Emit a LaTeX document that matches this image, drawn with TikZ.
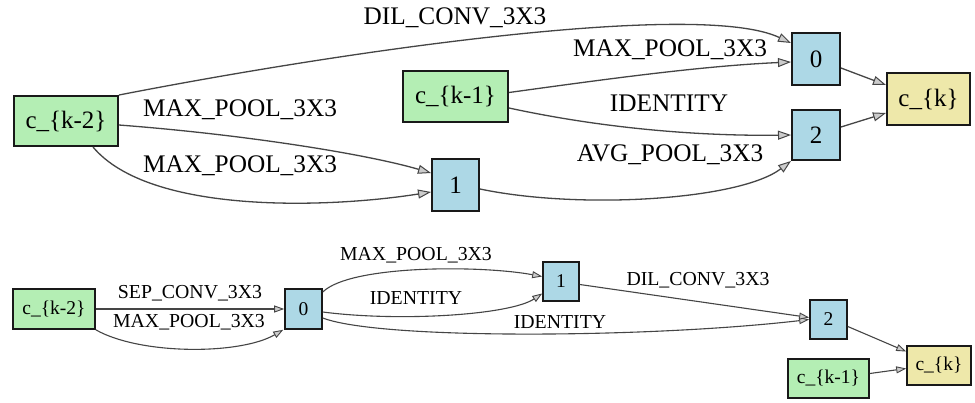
\documentclass[tikz,border=0pt]{standalone}
\usepackage{fontspec}
\setmainfont{Liberation Serif}
\usetikzlibrary{arrows.meta}
\definecolor{inputgreen}{HTML}{B4EEB4}
\definecolor{stepblue}{HTML}{ADD8E6}
\definecolor{outyellow}{HTML}{EEE8AA}
\definecolor{edgegray}{HTML}{454545}
\tikzset{
  bigbox/.style={draw=black!90, line width=2pt, inner sep=0pt,
    font=\fontsize{25}{25}\selectfont},
  smallbox/.style={draw=black!90, line width=1.6pt, inner sep=0pt,
    font=\fontsize{19.5}{19.5}\selectfont},
  innode/.style={fill=inputgreen},
  midnode/.style={fill=stepblue},
  outnode/.style={fill=outyellow},
  bigedge/.style={draw=edgegray, line width=1.3pt,
    -{Triangle[length=13pt,width=9pt,fill=gray!40,line width=1pt]}},
  smalledge/.style={draw=edgegray, line width=1.1pt,
    -{Triangle[length=10pt,width=7pt,fill=gray!40,line width=0.9pt]}},
  biglabel/.style={inner sep=0pt, font=\fontsize{25.3}{25.3}\selectfont},
  smalllabel/.style={inner sep=0pt, font=\fontsize{19.8}{19.8}\selectfont},
}
\begin{document}
\begin{tikzpicture}[x=1pt,y=-1pt]
\useasboundingbox[fill=white] (0,0) rectangle (975,402);

% ---------- upper cell ----------
\node[bigbox,innode,minimum width=104pt,minimum height=50pt] (tA) at (66,121) {c\_\{k-2\}};
\node[bigbox,innode,minimum width=105pt,minimum height=51pt] (tB) at (455.5,96.5) {c\_\{k-1\}};
\node[bigbox,midnode,minimum width=48pt,minimum height=52pt] (t0) at (816,59) {0};
\node[bigbox,midnode,minimum width=47pt,minimum height=52pt] (t1) at (455.5,185) {1};
\node[bigbox,midnode,minimum width=48pt,minimum height=50pt] (t2) at (816,135) {2};
\node[bigbox,outnode,minimum width=83pt,minimum height=52pt] (tK) at (928.5,99) {c\_\{k\}};

\draw[bigedge] (tA.north east) .. controls (350,50) and (700,0) .. ([yshift=16pt]t0.west);
\draw[bigedge] ([yshift=4pt]tB.east) .. controls (600,80) and (700,66) .. ([yshift=-3pt]t0.west);
\draw[bigedge] ([yshift=-11.5pt]tB.east) .. controls (620,132) and (720,136) .. (t2.west);
\draw[bigedge] ([yshift=-4pt]tA.east) .. controls (250,135) and (370,155) .. ([yshift=12pt]t1.west);
\draw[bigedge] ([xshift=-26pt]tA.south east) .. controls (150,215) and (330,208) .. ([yshift=-7pt]t1.west);
\draw[bigedge] ([yshift=-4pt]t1.east) .. controls (580,210) and (740,200) .. (t2.south west);
\draw[bigedge] ([yshift=-9pt]t0.east) -- ([yshift=14pt]tK.west);
\draw[bigedge] ([yshift=8pt]t2.east) -- ([yshift=-14pt]tK.west);

\node[biglabel] (lDil) at (455,18) {DIL\_CONV\_3X3};
\node[biglabel] (lMaxZero) at (670,50) {MAX\_POOL\_3X3};
\node[biglabel] (lIdTop) at (669,103) {IDENTITY};
\node[biglabel] (lAvg) at (670,155) {AVG\_POOL\_3X3};
\node[biglabel] (lMaxUp) at (240,110) {MAX\_POOL\_3X3};
\node[biglabel] (lMaxLow) at (240,166) {MAX\_POOL\_3X3};

% ---------- lower cell ----------
\node[smallbox,innode,minimum width=82pt,minimum height=40pt] (bA) at (54,309) {c\_\{k-2\}};
\node[smallbox,midnode,minimum width=37pt,minimum height=40pt] (b0) at (303.5,309) {0};
\node[smallbox,midnode,minimum width=36pt,minimum height=39pt] (b1) at (561,281.5) {1};
\node[smallbox,midnode,minimum width=37pt,minimum height=39pt] (b2) at (828.5,319.5) {2};
\node[smallbox,outnode,minimum width=64pt,minimum height=39pt] (bK) at (939,365.5) {c\_\{k\}};
\node[smallbox,innode,minimum width=81pt,minimum height=39pt] (bB) at (828.5,378.5) {c\_\{k-1\}};

\draw[smalledge] (bA.east) -- (b0.west);
\draw[smalledge] (bA.south east) .. controls (140,355) and (240,355) .. ([xshift=-1pt]b0.south west);
\draw[smalledge] ([yshift=17pt]b0.east) .. controls (350,265) and (480,265) .. ([yshift=5pt]b1.west);
\draw[smalledge] ([yshift=-3pt]b0.east) .. controls (400,322) and (510,315) .. ([yshift=-12pt]b1.west);
\draw[smalledge] ([yshift=-9pt]b0.east) .. controls (380,340) and (650,338) .. (b2.west);
\draw[smalledge] ([yshift=-3pt]b1.east) -- ([yshift=2pt]b2.west);
\draw[smalledge] ([yshift=-7pt]b2.east) -- ([yshift=14pt]bK.west);
\draw[smalledge] ([yshift=5pt]bB.east) -- ([yshift=-3pt]bK.west);

\node[smalllabel] (lSep) at (190,293) {SEP\_CONV\_3X3};
\node[smalllabel] (lMaxIn) at (189,322) {MAX\_POOL\_3X3};
\node[smalllabel] (lMaxOne) at (416,255) {MAX\_POOL\_3X3};
\node[smalllabel] (lIdOne) at (416,298) {IDENTITY};
\node[smalllabel] (lDilLow) at (698,280) {DIL\_CONV\_3X3};
\node[smalllabel] (lIdTwo) at (560,322) {IDENTITY};
\end{tikzpicture}
\end{document}
